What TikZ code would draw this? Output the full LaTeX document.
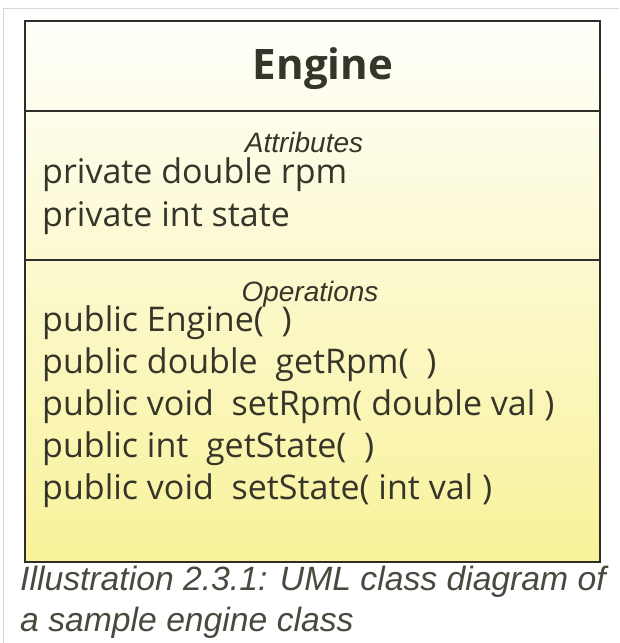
\documentclass[tikz,border=0pt]{standalone}
\usepackage{fontspec}
\setmainfont{Open Sans}
\newfontfamily\capfont{Liberation Sans}
\definecolor{ink}{HTML}{35352A}
\definecolor{boxline}{HTML}{2E2E28}
\definecolor{topfill}{HTML}{FFFFFB}
\definecolor{botfill}{HTML}{F8F29A}
\definecolor{framegray}{HTML}{D8D8D8}
\tikzset{
  member/.style={anchor=base west, inner sep=0pt, text=ink, font=\fontsize{34}{34}\selectfont},
  section/.style={anchor=base, inner sep=0pt, text=ink, font=\capfont\itshape\fontsize{28}{28}\selectfont},
  caption/.style={anchor=base west, inner sep=0pt, text=ink!90, font=\capfont\itshape\fontsize{33.7}{33.7}\selectfont},
  divider/.style={draw=boxline, line width=1.4pt},
}
\begin{document}
\begin{tikzpicture}[x=1pt,y=-1pt]
\useasboundingbox (0,0) rectangle (619,643);
\fill[white] (0,0) rectangle (619,643);
% faint outer frame
\draw[framegray, line width=1pt] (3,643) -- (3,8) -- (619,8);
% class box
\shade[top color=topfill, bottom color=botfill] (25,21) rectangle (600,562);
\coordinate (hl) at (25,111);
\coordinate (hr) at (600,111);
\coordinate (al) at (25,260);
\coordinate (ar) at (600,260);
\draw[divider] (hl) -- (hr);
\draw[divider] (al) -- (ar);
\draw[divider] (25,21) rectangle (600,562);
% header
\node[anchor=base, inner sep=0pt, text=ink, font=\bfseries\fontsize{42}{42}\selectfont] (name) at (323,79) {Engine};
% attributes
\node[section] (attr) at (304,152) {Attributes};
\node[member] (a1) at (42,183) {private double rpm};
\node[member] (a2) at (42,226) {private int state};
% operations
\node[section] (ops) at (310,301) {Operations};
\node[member] (o1) at (42,331) {public Engine(\ \ )};
\node[member] (o2) at (42,373) {public double\ \ getRpm(\ \ )};
\node[member] (o3) at (42,415) {public void\ \ setRpm( double val )};
\node[member] (o4) at (42,457) {public int\ \ getState(\ \ )};
\node[member] (o5) at (42,499) {public void\ \ setState( int val )};
% caption
\node[caption] (c1) at (20,590) {Illustration 2.3.1: UML class diagram of};
\node[caption] (c2) at (20,631) {a sample engine class};
\end{tikzpicture}
\end{document}
